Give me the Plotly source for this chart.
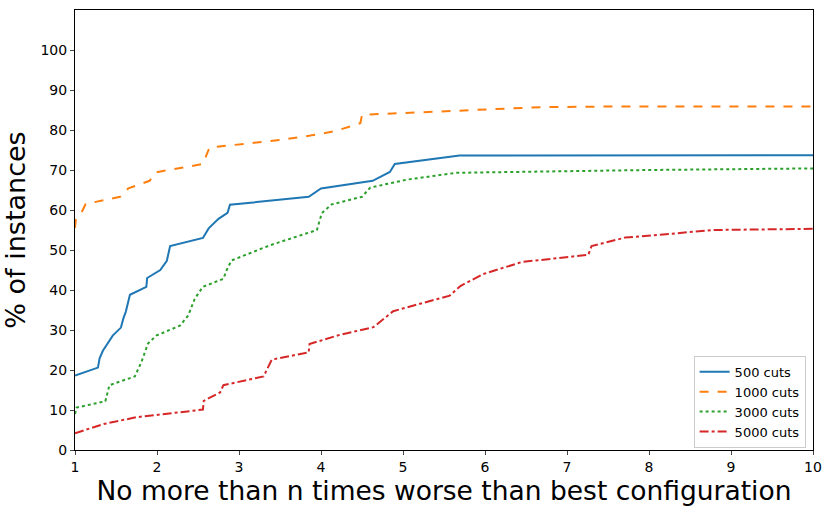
import plotly.graph_objects as go

x_500 = [1.0, 1.28, 1.30, 1.34, 1.46, 1.56, 1.59, 1.62, 1.67, 1.87, 1.88, 2.04, 2.12, 2.16, 2.56, 2.63, 2.75, 2.86, 2.89, 3.85, 4.0, 4.63, 4.84, 4.90, 5.69, 7.0, 8.5, 10.0]
y_500 = [18.6, 20.6, 22.9, 24.8, 28.6, 30.6, 32.9, 34.6, 38.8, 40.8, 43.0, 45.0, 47.3, 51.0, 53.0, 55.4, 57.8, 59.3, 61.3, 63.3, 65.4, 67.3, 69.5, 71.5, 73.6, 73.6, 73.6, 73.7]

x_1000 = [1.0, 1.01, 1.08, 1.13, 1.55, 1.65, 1.91, 1.98, 2.56, 2.64, 3.5, 3.87, 4.17, 4.48, 4.50, 5.0, 5.65, 6.67, 7.65, 10.0]
y_1000 = [55.5, 57.5, 59.4, 61.5, 63.3, 65.4, 67.3, 69.4, 71.5, 75.6, 77.5, 78.6, 79.7, 81.7, 83.8, 84.2, 84.9, 85.7, 85.9, 85.9]

x_3000 = [1.0, 1.02, 1.37, 1.42, 1.73, 1.81, 1.89, 1.99, 2.28, 2.38, 2.46, 2.56, 2.81, 2.85, 2.91, 3.38, 3.95, 4.01, 4.13, 4.50, 4.60, 5.05, 5.65, 6.67, 8.0, 10.0]
y_3000 = [9.0, 10.6, 12.2, 16.2, 18.4, 22.0, 26.6, 28.6, 31.1, 33.6, 37.8, 40.8, 42.8, 45.0, 47.4, 51.2, 55.0, 59.2, 61.4, 63.3, 65.6, 67.6, 69.3, 69.6, 70.0, 70.4]

x_5000 = [1.0, 1.35, 1.75, 2.56, 2.57, 2.77, 2.81, 3.30, 3.40, 3.85, 3.86, 4.23, 4.64, 4.88, 5.57, 5.70, 5.98, 6.45, 7.26, 7.30, 7.71, 8.2, 8.8, 10.0]
y_5000 = [4.2, 6.5, 8.2, 10.1, 12.3, 14.4, 16.2, 18.4, 22.6, 24.4, 26.5, 28.8, 30.7, 34.7, 38.6, 41.0, 44.0, 47.0, 48.8, 51.0, 53.1, 54.0, 55.0, 55.3]

series = [
    ("500 cuts", x_500, y_500, "#1f77b4", "solid"),
    ("1000 cuts", x_1000, y_1000, "#ff7f0e", "dash"),
    ("3000 cuts", x_3000, y_3000, "#2ca02c", "dot"),
    ("5000 cuts", x_5000, y_5000, "#d62728", "dashdot"),
]

x_ticks = list(range(1, 11))
y_ticks = list(range(0, 101, 10))

fig = go.Figure()
for name, xs, ys, color, dash in series:
    fig.add_trace(go.Scatter(x=xs, y=ys, mode="lines", name=name,
                             line=dict(color=color, dash=dash, width=2)))

font = "DejaVu Sans"
fig.update_layout(
    width=831, height=512,
    margin=dict(l=75, r=18, t=10, b=62, autoexpand=False),
    plot_bgcolor="white", paper_bgcolor="white",
    font=dict(family=font, color="black", size=14),
    showlegend=True,
    legend=dict(x=0.99, y=0.005, xanchor="right", yanchor="bottom",
                bgcolor="rgba(255,255,255,0.9)", bordercolor="#cccccc", borderwidth=1,
                font=dict(family=font, size=13, color="black"),
                tracegroupgap=0, itemwidth=30),
    xaxis=dict(range=[1, 10], tickvals=x_ticks, ticks="outside", ticklen=4,
               showline=True, mirror=True, linecolor="black", linewidth=1,
               showgrid=False, zeroline=False, automargin=False,
               title=dict(text="No more than n times worse than best configuration",
                          font=dict(family=font, size=26.5), standoff=4)),
    yaxis=dict(range=[0, 110], tickvals=y_ticks, ticks="outside", ticklen=4,
               showline=True, mirror=True, linecolor="black", linewidth=1,
               showgrid=False, zeroline=False, automargin=False,
               title=dict(text="% of instances", font=dict(family=font, size=27), standoff=8)),
)

fig.write_html("out.html", config={"displayModeBar": False},
               post_script="document.body.style.margin='0px';document.body.style.overflow='hidden';")
